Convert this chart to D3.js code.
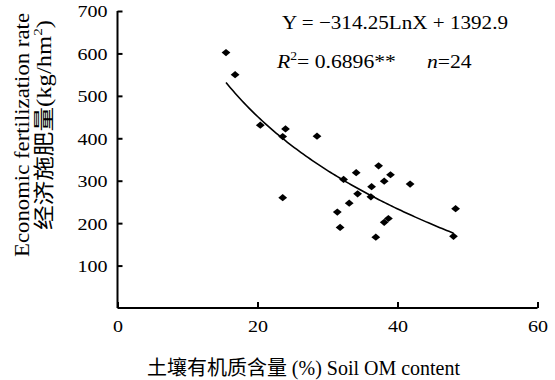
<!DOCTYPE html>
<html><head><meta charset="utf-8">
<script src="https://cdn.jsdelivr.net/npm/d3@7"></script>
<style>body{margin:0;background:#fff;}</style></head>
<body>
<svg id="chart" width="555" height="380"></svg>
<script>
// Data
const omContent = [15.5,16.8,20.4,24.0,23.6,28.5,23.6,32.3,34.1,37.3,39.0,38.1,41.8,36.3,34.3,36.2,33.1,31.4,31.8,36.9,38.1,38.7,48.3,48.0];
const fertRate  = [602,550,431,422,404,405,260,303,319,335,314,299,292,286,269,262,247,226,190,167,202,211,234,169];
const xTicks = [0,20,40,60];
const yTicks = [100,200,300,400,500,600,700];
const fitSlope = -314.25, fitIntercept = 1392.9;
const fitRange = [15.5,48];

const SERIF = "'Liberation Serif', 'Times New Roman', serif";
const CJK = "'Liberation Serif', 'Noto Sans CJK SC', serif";

const svg = d3.select("#chart");
const x = d3.scaleLinear().domain([0,60]).range([117.5,537.5]);
const y = d3.scaleLinear().domain([0,700]).range([308,11]);

const yAxis = d3.axisLeft(y).tickValues(yTicks).tickSize(-5).tickPadding(9).tickSizeOuter(0);
const gy = svg.append("g").attr("transform",`translate(${x(0)},0)`).call(yAxis);
gy.select(".domain").attr("d",`M0,${y(0)}V${y(700)}`).attr("stroke","#000").attr("stroke-width",2);
gy.selectAll("line").attr("stroke","#000").attr("stroke-width",2);
gy.selectAll("text").style("font-family",SERIF).style("font-size","17px").attr("dy","0.35em")
  .attr("x",-8.5).attr("transform","scale(1.18,1)");

const xAxis = d3.axisBottom(x).tickValues(xTicks).tickSize(-6).tickPadding(12).tickSizeOuter(0);
const gx = svg.append("g").attr("transform",`translate(0,${y(0)})`).call(xAxis);
gx.select(".domain").attr("d",`M${x(0)},0H${x(60)}`).attr("stroke","#000").attr("stroke-width",2);
gx.selectAll("line").attr("stroke","#000").attr("stroke-width",2);
gx.selectAll("text").style("font-family",SERIF).style("font-size","17px").attr("transform","scale(1.18,1)");

// Fitted curve
const curveXs = d3.range(0,101).map(i => fitRange[0] + (fitRange[1]-fitRange[0])*i/100);
const line = d3.line().x(d=>x(d)).y(d=>y(fitSlope*Math.log(d)+fitIntercept));
svg.append("path").datum(curveXs).attr("d",line).attr("fill","none").attr("stroke","#000").attr("stroke-width",1.6);

// Points (diamonds)
const diamond = "M0,-3.6L4.4,0L0,3.6L-4.4,0Z";
svg.selectAll(".pt").data(omContent.map((v,i)=>[v,fertRate[i]])).enter()
  .append("path").attr("class","pt").attr("d",diamond)
  .attr("transform",d=>`translate(${x(d[0])},${y(d[1])})`).attr("fill","#000");

// Equation
svg.append("text").attr("x",282).attr("y",29).style("font-family",SERIF).style("font-size","19px")
  .attr("textLength",226).attr("lengthAdjust","spacingAndGlyphs")
  .text("Y = \u2212314.25LnX + 1392.9");
const t2 = svg.append("text").attr("transform","translate(277,68) scale(1.14,1)")
  .style("font-family",SERIF).style("font-size","19px");
t2.append("tspan").attr("font-style","italic").text("R");
t2.append("tspan").style("font-size","12px").attr("dy",-8).text("2");
t2.append("tspan").attr("dy",8).text("= 0.6896**");
t2.append("tspan").attr("x",131.5).attr("font-style","italic").text("n");
t2.append("tspan").text("=24");

// X title
svg.append("text").attr("x",147).attr("y",375).style("font-family",CJK).style("font-size","20px")
  .attr("textLength",313).attr("lengthAdjust","spacingAndGlyphs")
  .text("土壤有机质含量 (%) Soil OM content");

// Y title
svg.append("text").attr("transform","translate(29,257) rotate(-90)").style("font-family",SERIF).style("font-size","20px")
  .attr("textLength",244).attr("lengthAdjust","spacingAndGlyphs")
  .text("Economic fertilization rate");
const yt2 = svg.append("text").attr("transform","translate(51,230) rotate(-90)").style("font-family",CJK).style("font-size","21px")
  .attr("textLength",210).attr("lengthAdjust","spacingAndGlyphs");
yt2.append("tspan").text("经济施肥量(kg/hm");
yt2.append("tspan").style("font-size","13px").attr("dy",-9).text("2");
yt2.append("tspan").attr("dy",9).text(")");
</script>
</body></html>
